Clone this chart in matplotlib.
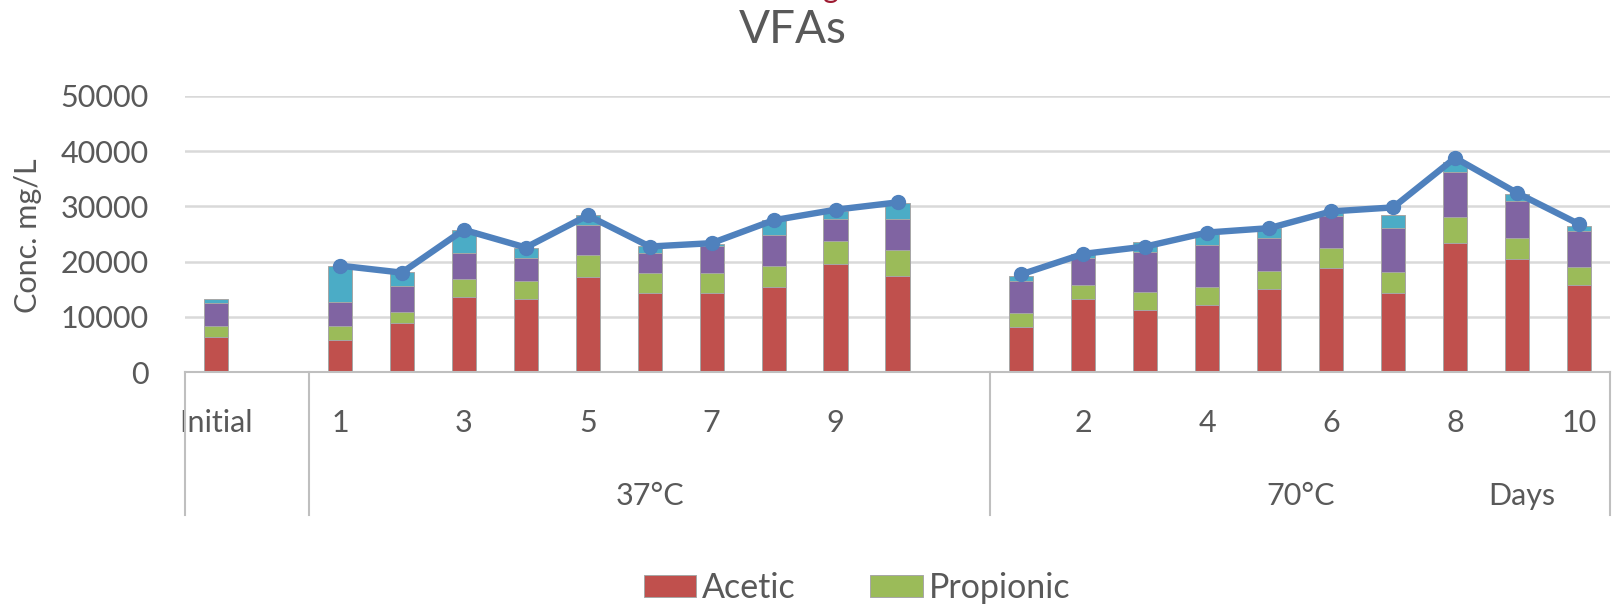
import numpy as np
import matplotlib
matplotlib.use("Agg")
import matplotlib.pyplot as plt
import matplotlib.patches as mpatches
from matplotlib.transforms import blended_transform_factory

plt.rcParams["font.family"] = ["Lato", "DejaVu Sans"]

nan = np.nan

# ── Data (one slot per category, blanks are empty slots) ──
SLOT_LABELS = ["Initial", "",
               "1", "2", "3", "4", "5", "6", "7", "8", "9", "10", "",
               "1", "2", "3", "4", "5", "6", "7", "8", "9", "10"]
GROUP_NAMES = ["", "37°C", "70°C"]
GROUP_SIZES = [2, 11, 10]

acetic    = [6300, nan, 5760, 8800, 13640, 13220, 17220, 14360, 14360, 15340, 19520, 17400, nan,
             8070, 13220, 11160, 12070, 15090, 18800, 14360, 23450, 20430, 15760]
propionic = [2000, nan, 2540, 2100, 3260, 3270, 3940, 3530, 3530, 3930, 4180, 4670, nan,
             2550, 2540, 3270, 3270, 3270, 3750, 3710, 4670, 3930, 3270]
butyric   = [4250, nan, 4430, 4680, 4680, 4180, 5380, 3750, 4960, 5580, 4000, 5630, nan,
             5870, 4970, 7390, 7690, 6000, 5630, 7930, 8130, 6550, 6550]
valeric   = [650, nan, 6540, 2490, 4180, 1880, 1820, 1260, 370, 2600, 1510, 2970, nan,
             910, 620, 1820, 2000, 1700, 610, 2360, 1870, 1400, 910]
total     = [nan, nan, 19270, 18000, 25760, 22550, 28360, 22730, 23340, 27490, 29400, 30730, nan,
             17700, 21400, 22730, 25270, 26060, 29090, 29820, 38790, 32430, 26790]

SERIES = [("Acetic", acetic, "#C0504D"),
          ("Propionic", propionic, "#9BBB59"),
          ("Butyric", butyric, "#8064A2"),
          ("Valeric", valeric, "#4BACC6")]

TEXT = "#595959"
GRID = "#D9D9D9"
AXIS = "#BFBFBF"

W, H = 1612, 607
fig = plt.figure(figsize=(W / 100, H / 100), dpi=100)
ax = fig.add_axes([185 / W, 1 - 372 / H, 1425 / W, 276 / H])

x = np.arange(len(SLOT_LABELS))
bottom = np.zeros(len(x))
handles = []
for name, vals, color in SERIES:
    vals = np.array(vals, dtype=float)
    ax.bar(x, vals, 0.39, bottom=bottom, color=color, edgecolor="#A6A6A6",
           linewidth=0.7, zorder=2)
    bottom = bottom + vals
    handles.append(mpatches.Patch(facecolor=color, edgecolor="#A6A6A6", linewidth=0.7, label=name))

ax.plot(x, total, color="#4F81BD", linewidth=4.6, marker="o", markersize=10,
        zorder=4, solid_capstyle="round")

ax.set_xlim(-0.5, len(x) - 0.5)
ax.set_ylim(0, 50000)
ax.set_yticks(np.arange(0, 50001, 10000))
ax.yaxis.grid(True, color=GRID, linewidth=1.8, zorder=0)
ax.set_axisbelow(True)
for s in ["top", "right", "left"]:
    ax.spines[s].set_visible(False)
ax.spines["bottom"].set_color(AXIS)
ax.spines["bottom"].set_linewidth(1.5)

ax.tick_params(axis="y", length=0, pad=26, labelsize=22, labelcolor=TEXT)
ax.tick_params(axis="x", length=0, pad=27, labelsize=22, labelcolor=TEXT)
ax.set_xticks(x[::2], SLOT_LABELS[::2])

# multi-level category axis: group dividers and group names
trans = blended_transform_factory(ax.transData, ax.transAxes)
edges = np.concatenate([[0], np.cumsum(GROUP_SIZES)]) - 0.5
for e in edges:
    ax.plot([e, e], [0, -0.518], transform=trans, clip_on=False,
            color=AXIS, linewidth=1.5, zorder=1)
for name, a, b in zip(GROUP_NAMES, edges[:-1], edges[1:]):
    ax.text((a + b) / 2, -0.482, name, transform=trans, ha="center",
            va="baseline", fontsize=22, color=TEXT)
ax.text(21.08, -0.482, "Days", transform=trans, ha="center", va="baseline",
        fontsize=22, color=TEXT)

ax.text(-0.110, 0.493, "Conc. mg/L", transform=ax.transAxes, rotation=90,
        ha="center", va="center", fontsize=22, color=TEXT)

fig.text(793 / W, 1 - 43 / H, "VFAs", ha="center", va="baseline",
         fontsize=33, color=TEXT)
# fragment of a red label cut off at the top edge in the source image
fig.text(831 / W, 1.003, "g", ha="center", va="baseline", fontsize=22, color="#9E1B32")

fig.legend(handles=handles[:2], loc="center", bbox_to_anchor=(857 / W, 1 - 588 / H),
           ncol=2, frameon=False, fontsize=24.5, labelcolor=TEXT,
           handlelength=1.55, handleheight=0.6, handletextpad=0.16, columnspacing=2.2)

fig.savefig("out.png", dpi=100)
